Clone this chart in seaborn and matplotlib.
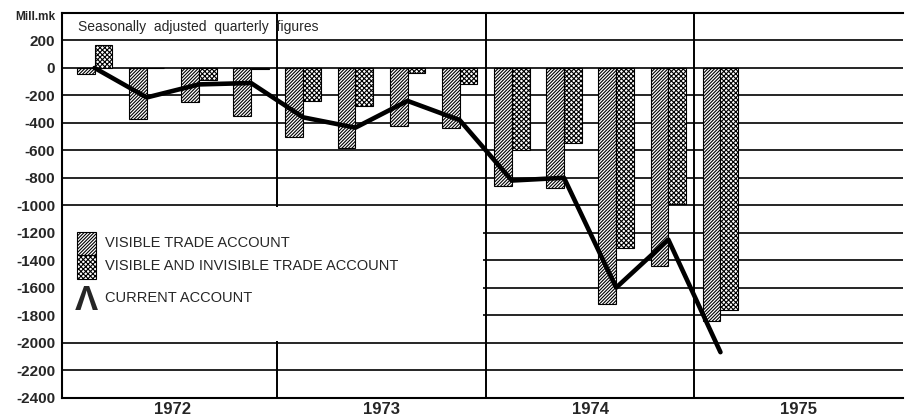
import pandas as pd
import seaborn as sns
import matplotlib.pyplot as plt
from matplotlib.patches import Rectangle

# quarters 1972 Q1 .. 1975 Q1, Mill. mk
quarters = list(range(13))
visible_trade = [-45, -375, -250, -350, -500, -580, -425, -440, -860, -875, -1720, -1445, -1840]
visible_invisible = [170, 0, -90, -10, -240, -275, -35, -115, -600, -550, -1310, -990, -1760]
current_account = [0, -215, -120, -110, -360, -435, -240, -380, -820, -800, -1600, -1250, -2070]
years = ['1972', '1973', '1974', '1975']
y_ticks = list(range(-2400, 201, 200))

HATCH_VIS = '/' * 10
HATCH_BOTH = 'x' * 7

sns.set_style('white')
plt.rcParams['font.family'] = ['Liberation Sans', 'DejaVu Sans']
plt.rcParams['axes.unicode_minus'] = False
plt.rcParams['hatch.linewidth'] = 0.8
plt.rcParams['hatch.color'] = 'black'

fig = plt.figure(figsize=(9.05, 4.16), dpi=100)
ax = fig.add_axes([62/905, 1 - 397.5/416, (903 - 62)/905, (397.5 - 13)/416])

df = pd.DataFrame({
    'quarter': quarters * 2,
    'value': visible_trade + visible_invisible,
    'series': ['visible'] * len(quarters) + ['both'] * len(quarters),
})

sns.barplot(data=df, x='quarter', y='value', hue='series', hue_order=['visible', 'both'],
            palette=['white', 'white'], saturation=1, width=0.68, edgecolor='black',
            linewidth=0.8, errorbar=None, legend=False, ax=ax, zorder=2)
for container, hatch in zip(ax.containers, [HATCH_VIS, HATCH_BOTH]):
    for bar in container:
        bar.set_hatch(hatch)

sns.lineplot(x=quarters, y=current_account, color='black', linewidth=3.3, ax=ax, zorder=3)

ax.set_xlim(-0.625, 15.5)
ax.set_ylim(-2400, 400)

# grid lines and year separators
for y in y_ticks[1:]:
    ax.axhline(y, color='black', lw=1.2, zorder=1)
for x in [3.5, 7.5, 11.5]:
    ax.axvline(x, color='black', lw=1.4, zorder=1)

# blank area behind the legend
ax.add_patch(Rectangle((-0.625, -1985), 8.07, 970, facecolor='white', edgecolor='none', zorder=1.5))

# legend
ax.add_patch(Rectangle((-0.332, -1362), 0.353, 169, facecolor='white', edgecolor='black',
                       lw=0.8, hatch=HATCH_VIS, zorder=3))
ax.add_patch(Rectangle((-0.332, -1539), 0.353, 177, facecolor='white', edgecolor='black',
                       lw=0.8, hatch=HATCH_BOTH, zorder=3))
ax.text(0.2, -1277, 'VISIBLE TRADE ACCOUNT', fontsize=10.5, va='center', ha='left', zorder=4)
ax.text(0.2, -1440, 'VISIBLE AND INVISIBLE TRADE ACCOUNT', fontsize=10.5, va='center', ha='left', zorder=4)
ax.text(-0.149, -1690, 'Λ', fontsize=25, fontweight='bold', va='center', ha='center', zorder=4)
ax.text(0.2, -1678, 'CURRENT ACCOUNT', fontsize=10.5, va='center', ha='left', zorder=4)

ax.text(-0.318, 298, 'Seasonally  adjusted  quarterly  figures', fontsize=10, va='center', ha='left')
ax.text(-0.008, 0.989, 'Mill.mk', transform=ax.transAxes, fontsize=8.5, fontweight='bold',
        va='center', ha='right')

# axes
ax.set_yticks(y_ticks, labels=[str(v) for v in y_ticks])
ax.tick_params(axis='y', direction='in', length=6, width=1.2, pad=5, labelsize=11, color='black')
for lab in ax.get_yticklabels():
    lab.set_fontweight('bold')

quarter_ticks = [q + 0.5 for q in range(15) if (q + 1) % 4 != 0]
ax.set_xticks(quarter_ticks, labels=[''] * len(quarter_ticks))
ax.set_xticks([1.5, 5.5, 9.5, 13.5], labels=years, minor=True)
ax.xaxis.remove_overlapping_locs = False
ax.tick_params(axis='x', which='major', direction='in', length=12, width=1.3, color='black')
ax.tick_params(axis='x', which='minor', length=0, pad=3, labelsize=12)
for lab in ax.get_xticklabels(minor=True):
    lab.set_fontweight('bold')

ax.set_xlabel('')
ax.set_ylabel('')
ax.spines['right'].set_visible(False)
for side in ['left', 'top', 'bottom']:
    ax.spines[side].set_color('black')
    ax.spines[side].set_linewidth(1.5)

fig.savefig('out.png', dpi=100)
